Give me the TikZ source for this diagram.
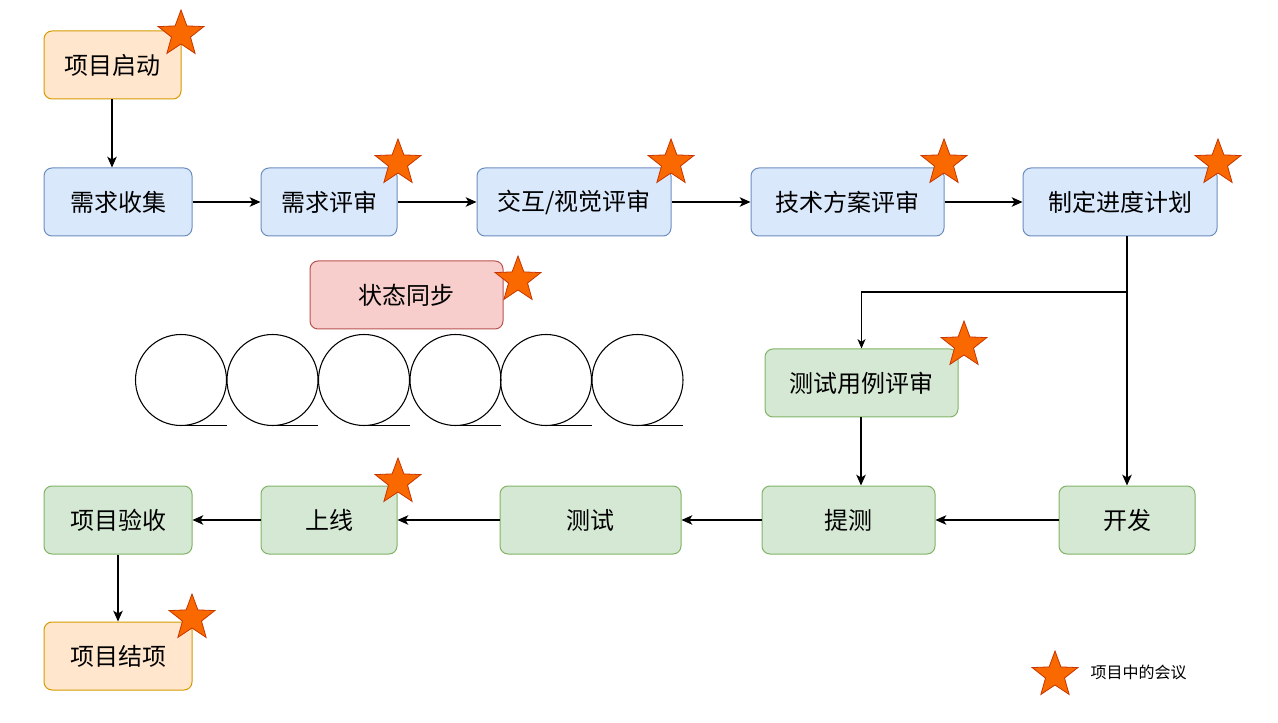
\documentclass[tikz,border=0pt]{standalone}
\usepackage{fontspec}
\setmainfont{Noto Sans CJK SC}
\usetikzlibrary{shapes.geometric,arrows.meta}
\definecolor{ofill}{HTML}{FFE6CC}\definecolor{oline}{HTML}{D79B00}
\definecolor{bfill}{HTML}{DAE8FC}\definecolor{bline}{HTML}{6C8EBF}
\definecolor{gfill}{HTML}{D5E8D4}\definecolor{gline}{HTML}{82B366}
\definecolor{rfill}{HTML}{F8CECC}\definecolor{rline}{HTML}{B85450}
\definecolor{sfill}{HTML}{FA6800}\definecolor{sline}{HTML}{C73500}
\tikzset{
  box/.style={draw, rounded corners=6pt, line width=0.75pt, minimum height=51pt, inner sep=0pt, font=\fontsize{18}{21}\selectfont},
  obox/.style={box, fill=ofill, draw=oline},
  bbox/.style={box, fill=bfill, draw=bline},
  gbox/.style={box, fill=gfill, draw=gline},
  rbox/.style={box, fill=rfill, draw=rline},
  meet/.style={star, star points=5, star point ratio=2.4, minimum size=36pt, inner sep=0pt, fill=sfill, draw=sline, line width=0.6pt},
  flow/.style={-{Stealth[length=8pt,width=7pt,inset=2pt]}, line width=1.5pt},
  thinflow/.style={-{Stealth[length=7pt,width=6pt,inset=2pt]}, line width=0.9pt},
}
\begin{document}
\begin{tikzpicture}[x=0.75pt,y=-0.75pt]
\useasboundingbox[fill=white] (0,0) rectangle (1278,723);
% nodes
\node[obox, minimum width=102.75pt] (qd) at (112.5,65) {项目启动};
\node[bbox, minimum width=111pt] (xq) at (118,202) {需求收集};
\node[bbox, minimum width=102pt] (xp) at (329,202) {需求评审};
\node[bbox, minimum width=145.5pt] (jh) at (574,202) {交互/视觉评审};
\node[bbox, minimum width=144.75pt] (js) at (847.5,202) {技术方案评审};
\node[bbox, minimum width=145.5pt] (zd) at (1120,202) {制定进度计划};
\node[rbox, minimum width=144.75pt] (zt) at (406.5,295) {状态同步};
\node[gbox, minimum width=144.75pt] (cs) at (861.5,383) {测试用例评审};
\node[gbox, minimum width=102pt] (kf) at (1127,520) {开发};
\node[gbox, minimum width=129.75pt] (tc) at (848.5,520) {提测};
\node[gbox, minimum width=135.75pt] (ce) at (590.5,520) {测试};
\node[gbox, minimum width=102pt] (sx) at (329,520) {上线};
\node[gbox, minimum width=111pt] (ys) at (118,520) {项目验收};
\node[obox, minimum width=111pt] (jx) at (118,656) {项目结项};
% stars
\node[meet] (s1) at (181,34) {};
\node[meet] (s2) at (398,163) {};
\node[meet] (s3) at (671,163) {};
\node[meet] (s4) at (944,163) {};
\node[meet] (s5) at (1218,163) {};
\node[meet] (s6) at (518,280) {};
\node[meet] (s7) at (964,345) {};
\node[meet] (s8) at (398,482) {};
\node[meet] (s9) at (192,618) {};
\node[meet] (sl) at (1055,675) {};
\node[anchor=west, font=\fontsize{12}{14}\selectfont] (lg) at (1086,672) {项目中的会议};
% tapes
\foreach \cx in {181,272.5,364,455.5,546,637.5}{
  \draw[line width=0.8pt] (\cx,380) circle[radius=45.5];
  \draw[line width=0.8pt] (\cx,425.5) -- (\cx+45.5,425.5);
}
% connectors
\coordinate (a1) at (112,0);
\coordinate (a2) at (861,0);
\draw[flow] (qd.south -| a1) -- (xq.north -| a1);
\draw[flow] (xq) -- (xp);
\draw[flow] (xp) -- (jh);
\draw[flow] (jh) -- (js);
\draw[flow] (js) -- (zd);
\draw[flow] (zd.south -| kf.north) -- (kf.north);
\coordinate (jn) at (1127,292);
\draw[thinflow] (jn) -| (cs.north);
\draw[flow] (cs.south -| a2) -- (tc.north -| a2);
\draw[flow] (kf) -- (tc);
\draw[flow] (tc) -- (ce);
\draw[flow] (ce) -- (sx);
\draw[flow] (sx) -- (ys);
\draw[flow] (ys.south) -- (ys.south |- jx.north);
\end{tikzpicture}
\end{document}
